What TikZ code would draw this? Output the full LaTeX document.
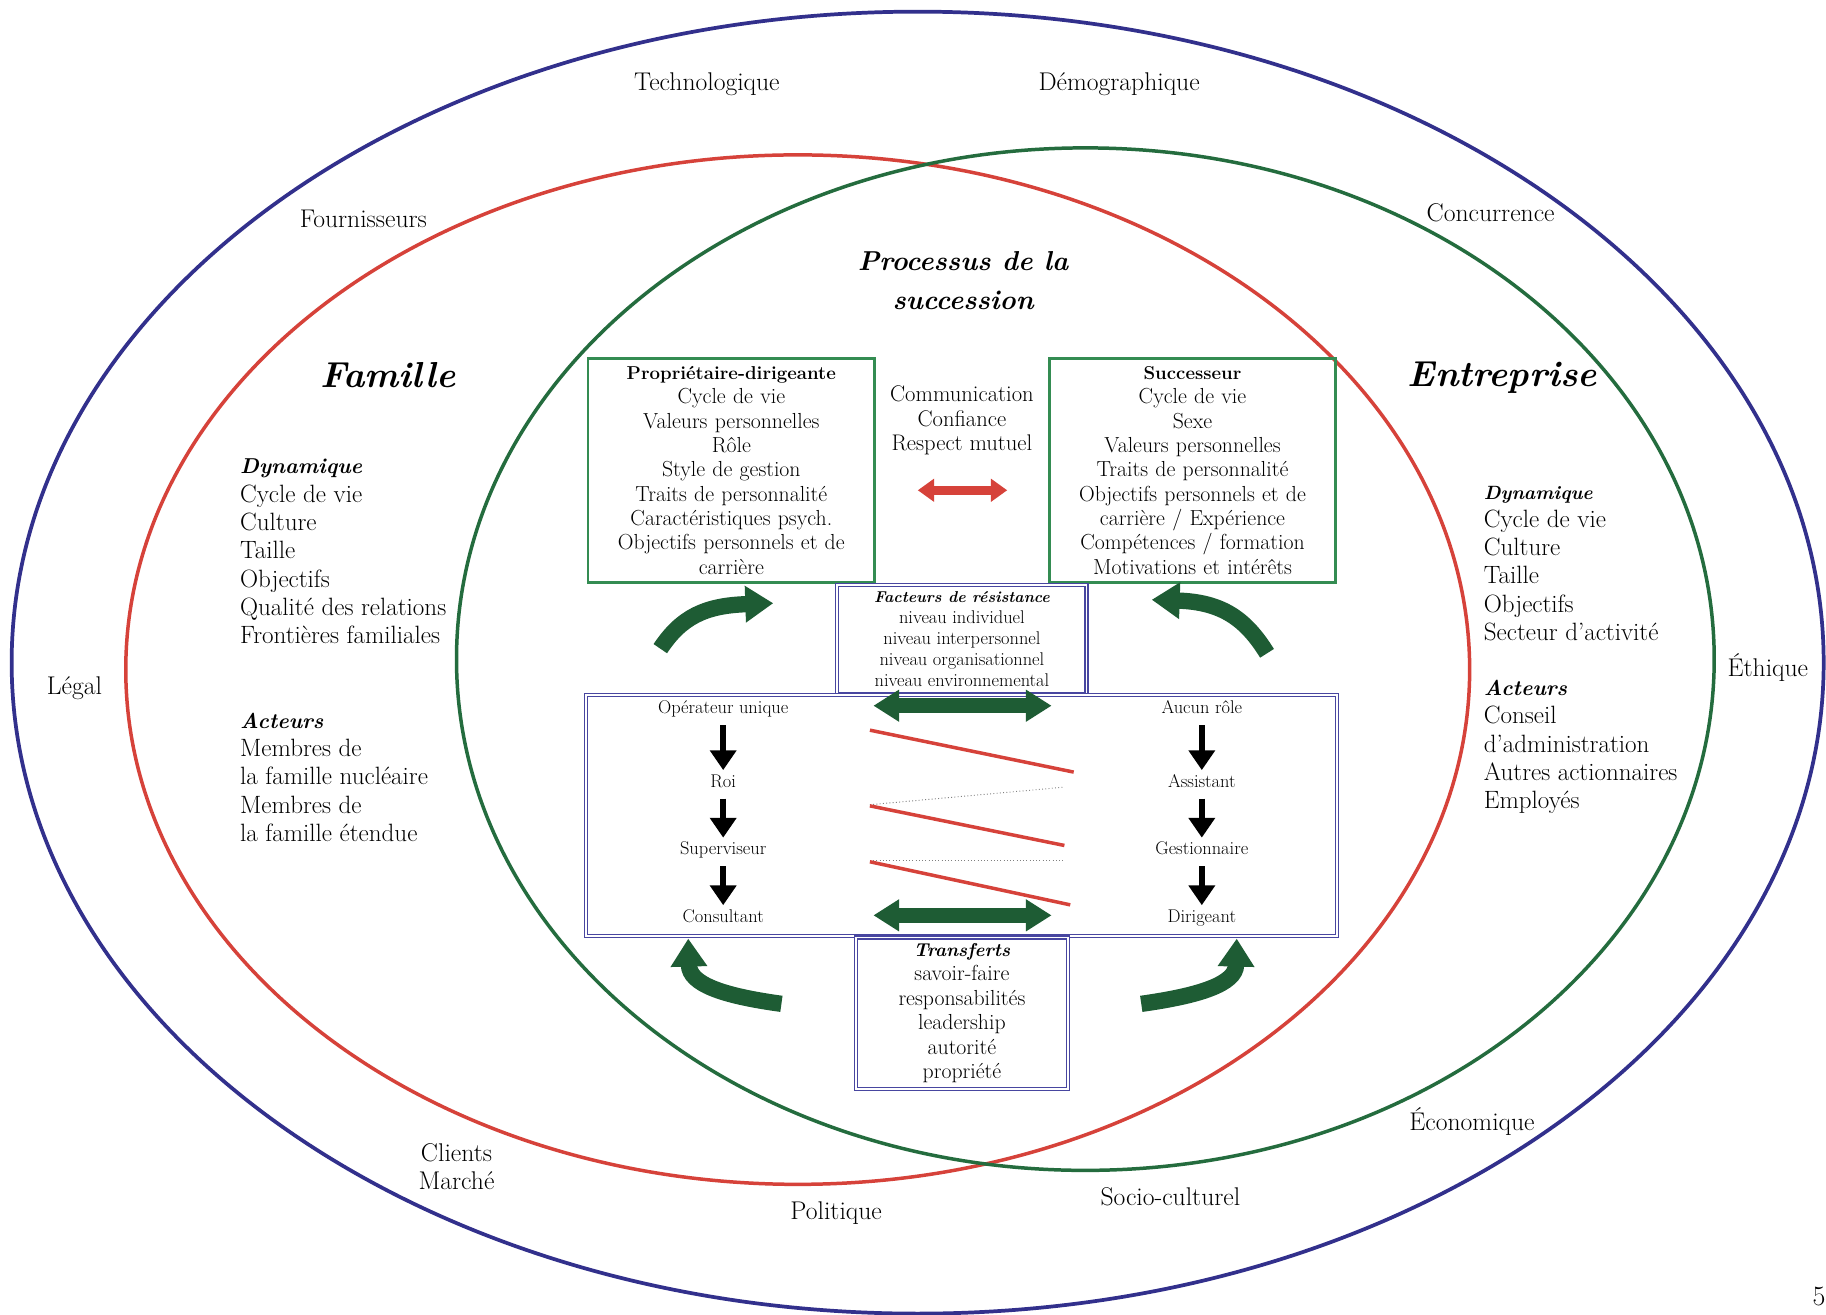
\documentclass[tikz,border=0pt]{standalone}
\usepackage{fontspec}
\usetikzlibrary{arrows.meta,positioning}
\definecolor{famred}{RGB}{214,66,58}
\definecolor{entgreen}{RGB}{36,108,62}
\definecolor{envblue}{RGB}{50,48,140}
\definecolor{boxgreen}{RGB}{52,140,82}
\definecolor{arrgreen}{RGB}{30,92,52}
\definecolor{wallblue}{RGB}{72,70,160}
\newcommand{\fs}[2]{\fontsize{#1}{#2}\selectfont}
\newcommand{\hd}[2]{{\fs{#1}{#1}\bfseries\itshape #2}}
\tikzset{
  env/.style={align=center,font=\fs{22}{24},inner sep=1},
  title/.style={font=\fs{31}{38}\bfseries\itshape,inner sep=0},
  list/.style={anchor=north west,align=left,font=\fs{21.5}{24.3},inner sep=0},
  gbox/.style={draw=boxgreen,line width=2.2,minimum width=246,minimum height=192,
    text width=240,align=center,font=\fs{18.7}{20.9},inner sep=2},
  bbox/.style={draw=wallblue,double=white,double distance=1.6,line width=1,
    align=center,inner sep=2},
  stg/.style={font=\fs{15.8}{17},text height=11,text depth=3,inner xsep=3,inner ysep=3.5},
  darrow/.style={line width=5,shorten <=3,-{Triangle[width=22pt,length=17pt]}},
  garrow/.style={arrgreen,line width=13,
    {Triangle[width=26pt,length=22pt]}-{Triangle[width=26pt,length=22pt]}},
  rarrow/.style={famred,line width=8,
    {Triangle[width=19pt,length=14pt]}-{Triangle[width=19pt,length=14pt]}},
  carrow/.style={arrgreen,line width=14,-{Triangle[width=30pt,length=24pt]}},
  zig/.style={famred,line width=3},
  zag/.style={gray,line width=0.8,dotted}
}
\begin{document}
\begin{tikzpicture}[x=1pt,y=-1pt]
      \useasboundingbox [fill=white] (0,0) rectangle (1568,1129);

      \draw [envblue,line width=3.2] (788,569) ellipse [x radius=778,y radius=559];
      \draw [famred,line width=3] (685,575) ellipse [x radius=577,y radius=442];
      \draw [entgreen,line width=3] (932,566) ellipse [x radius=540,y radius=439];

      \node [env] (tech) at (607,72) {Technologique};
      \node [env] (demo) at (961,72) {Démographique};
      \node [env] (four) at (312,188) {Fournisseurs};
      \node [env] (conc) at (1280,183) {Concurrence};
      \node [env] (legal) at (64,591) {Légal};
      \node [env] (ethi) at (1518,573) {Éthique};
      \node [env] (econ) at (1264,963) {Économique};
      \node [env] (clie) at (392,1002) {Clients\\Marché};
      \node [env] (poli) at (718,1042) {Politique};
      \node [env] (soci) at (1005,1028) {Socio-culturel};
      \node [env,font=\fs{24}{28}] (page) at (1562,1113) {5};

      \node [title] (fam) at (333,322) {Famille};
      \node [title] (entr) at (1290,324) {Entreprise};
      \node [title,align=center,font=\fs{23.5}{33}\bfseries\itshape] (proc) at (827,241) {Processus de la\\succession};

      \node [list] (fdyn) at (206,394) {\hd{18.5}{Dynamique}\\Cycle de vie\\Culture\\Taille\\Objectifs\\Qualité des relations\\Frontières familiales};
      \node [list] (fact) at (206,612) {\hd{18.5}{Acteurs}\\Membres de\\la famille nucléaire\\Membres de\\la famille étendue};
      \node [list] (edyn) at (1274,417) {\hd{16.5}{Dynamique}\\Cycle de vie\\Culture\\Taille\\Objectifs\\Secteur d’activité};
      \node [list] (eact) at (1274,584) {\hd{18.5}{Acteurs}\\Conseil\\d’administration\\Autres actionnaires\\Employés};

      \node [gbox] (prop) at (628,404) {\hd{16}{\upshape Propriétaire-dirigeante}\\Cycle de vie\\Valeurs personnelles\\Rôle\\Style de gestion\\Traits de personnalité\\Caractéristiques psych.\\Objectifs personnels et de\\carrière};
      \node [gbox] (succ) at (1024,404) {\hd{16}{\upshape Successeur}\\Cycle de vie\\Sexe\\Valeurs personnelles\\Traits de personnalité\\Objectifs personnels et de\\carrière / Expérience\\Compétences / formation\\Motivations et intérêts};
      \node [align=center,font=\fs{19.4}{21}] (comm) at (826,361) {Communication\\Confiance\\Respect mutuel};
      \draw [rarrow] ([shift={(36,17)}]prop.east) -- ([shift={(-35,17)}]succ.west);

      \node [bbox,minimum width=214,minimum height=94,font=\fs{15.8}{18}] (resi) at (826,549) {\hd{13.5}{Facteurs de résistance}\\niveau individuel\\niveau interpersonnel\\niveau organisationnel\\niveau environnemental};
      \node [bbox,minimum width=645,minimum height=207] (stage) at (825.5,700.5) {};
      \node [bbox,minimum width=182,minimum height=130,font=\fs{18.7}{21}] (tran) at (826,870) {\hd{16}{Transferts}\\savoir-faire\\responsabilités\\leadership\\autorité\\propriété};

      \node [stg] (s1) at (621,609) {Opérateur unique};
      \node [stg] (s2) at (621,672) {Roi};
      \node [stg] (s3) at (621,730) {Superviseur};
      \node [stg] (s4) at (621,788) {Consultant};
      \node [stg] (r1) at (1032,609) {Aucun rôle};
      \node [stg] (r2) at (1032,672) {Assistant};
      \node [stg] (r3) at (1032,730) {Gestionnaire};
      \node [stg] (r4) at (1032,788) {Dirigeant};
      \foreach \a/\b in {s1/s2,s2/s3,s3/s4,r1/r2,r2/r3,r3/r4}
        \draw [darrow] (\a) -- (\b);

      \draw [garrow,shorten <=129,shorten >=129] ([yshift=3]s1.center) -- ([yshift=3]r1.center);
      \draw [garrow,shorten <=129,shorten >=129] ([yshift=2]s4.center) -- ([yshift=2]r4.center);

      \draw [zig] (747,627) -- (922,663);
      \draw [zag] (747,691) -- (913,676);
      \draw [zig] (747,692) -- (914,726);
      \draw [zag] (747,739) -- (913,739);
      \draw [zig] (747,740) -- (919,777);

      \draw [carrow] (567,557) .. controls (585,530) and (605,520) .. (664,518);
      \draw [carrow] (1088,561) .. controls (1070,532) and (1050,517) .. (989,515);
      \draw [carrow] (671,862) .. controls (620,855) and (592,845) .. (591,806);
      \draw [carrow] (980,862) .. controls (1030,855) and (1061,845) .. (1062,806);
    \end{tikzpicture}
\end{document}
